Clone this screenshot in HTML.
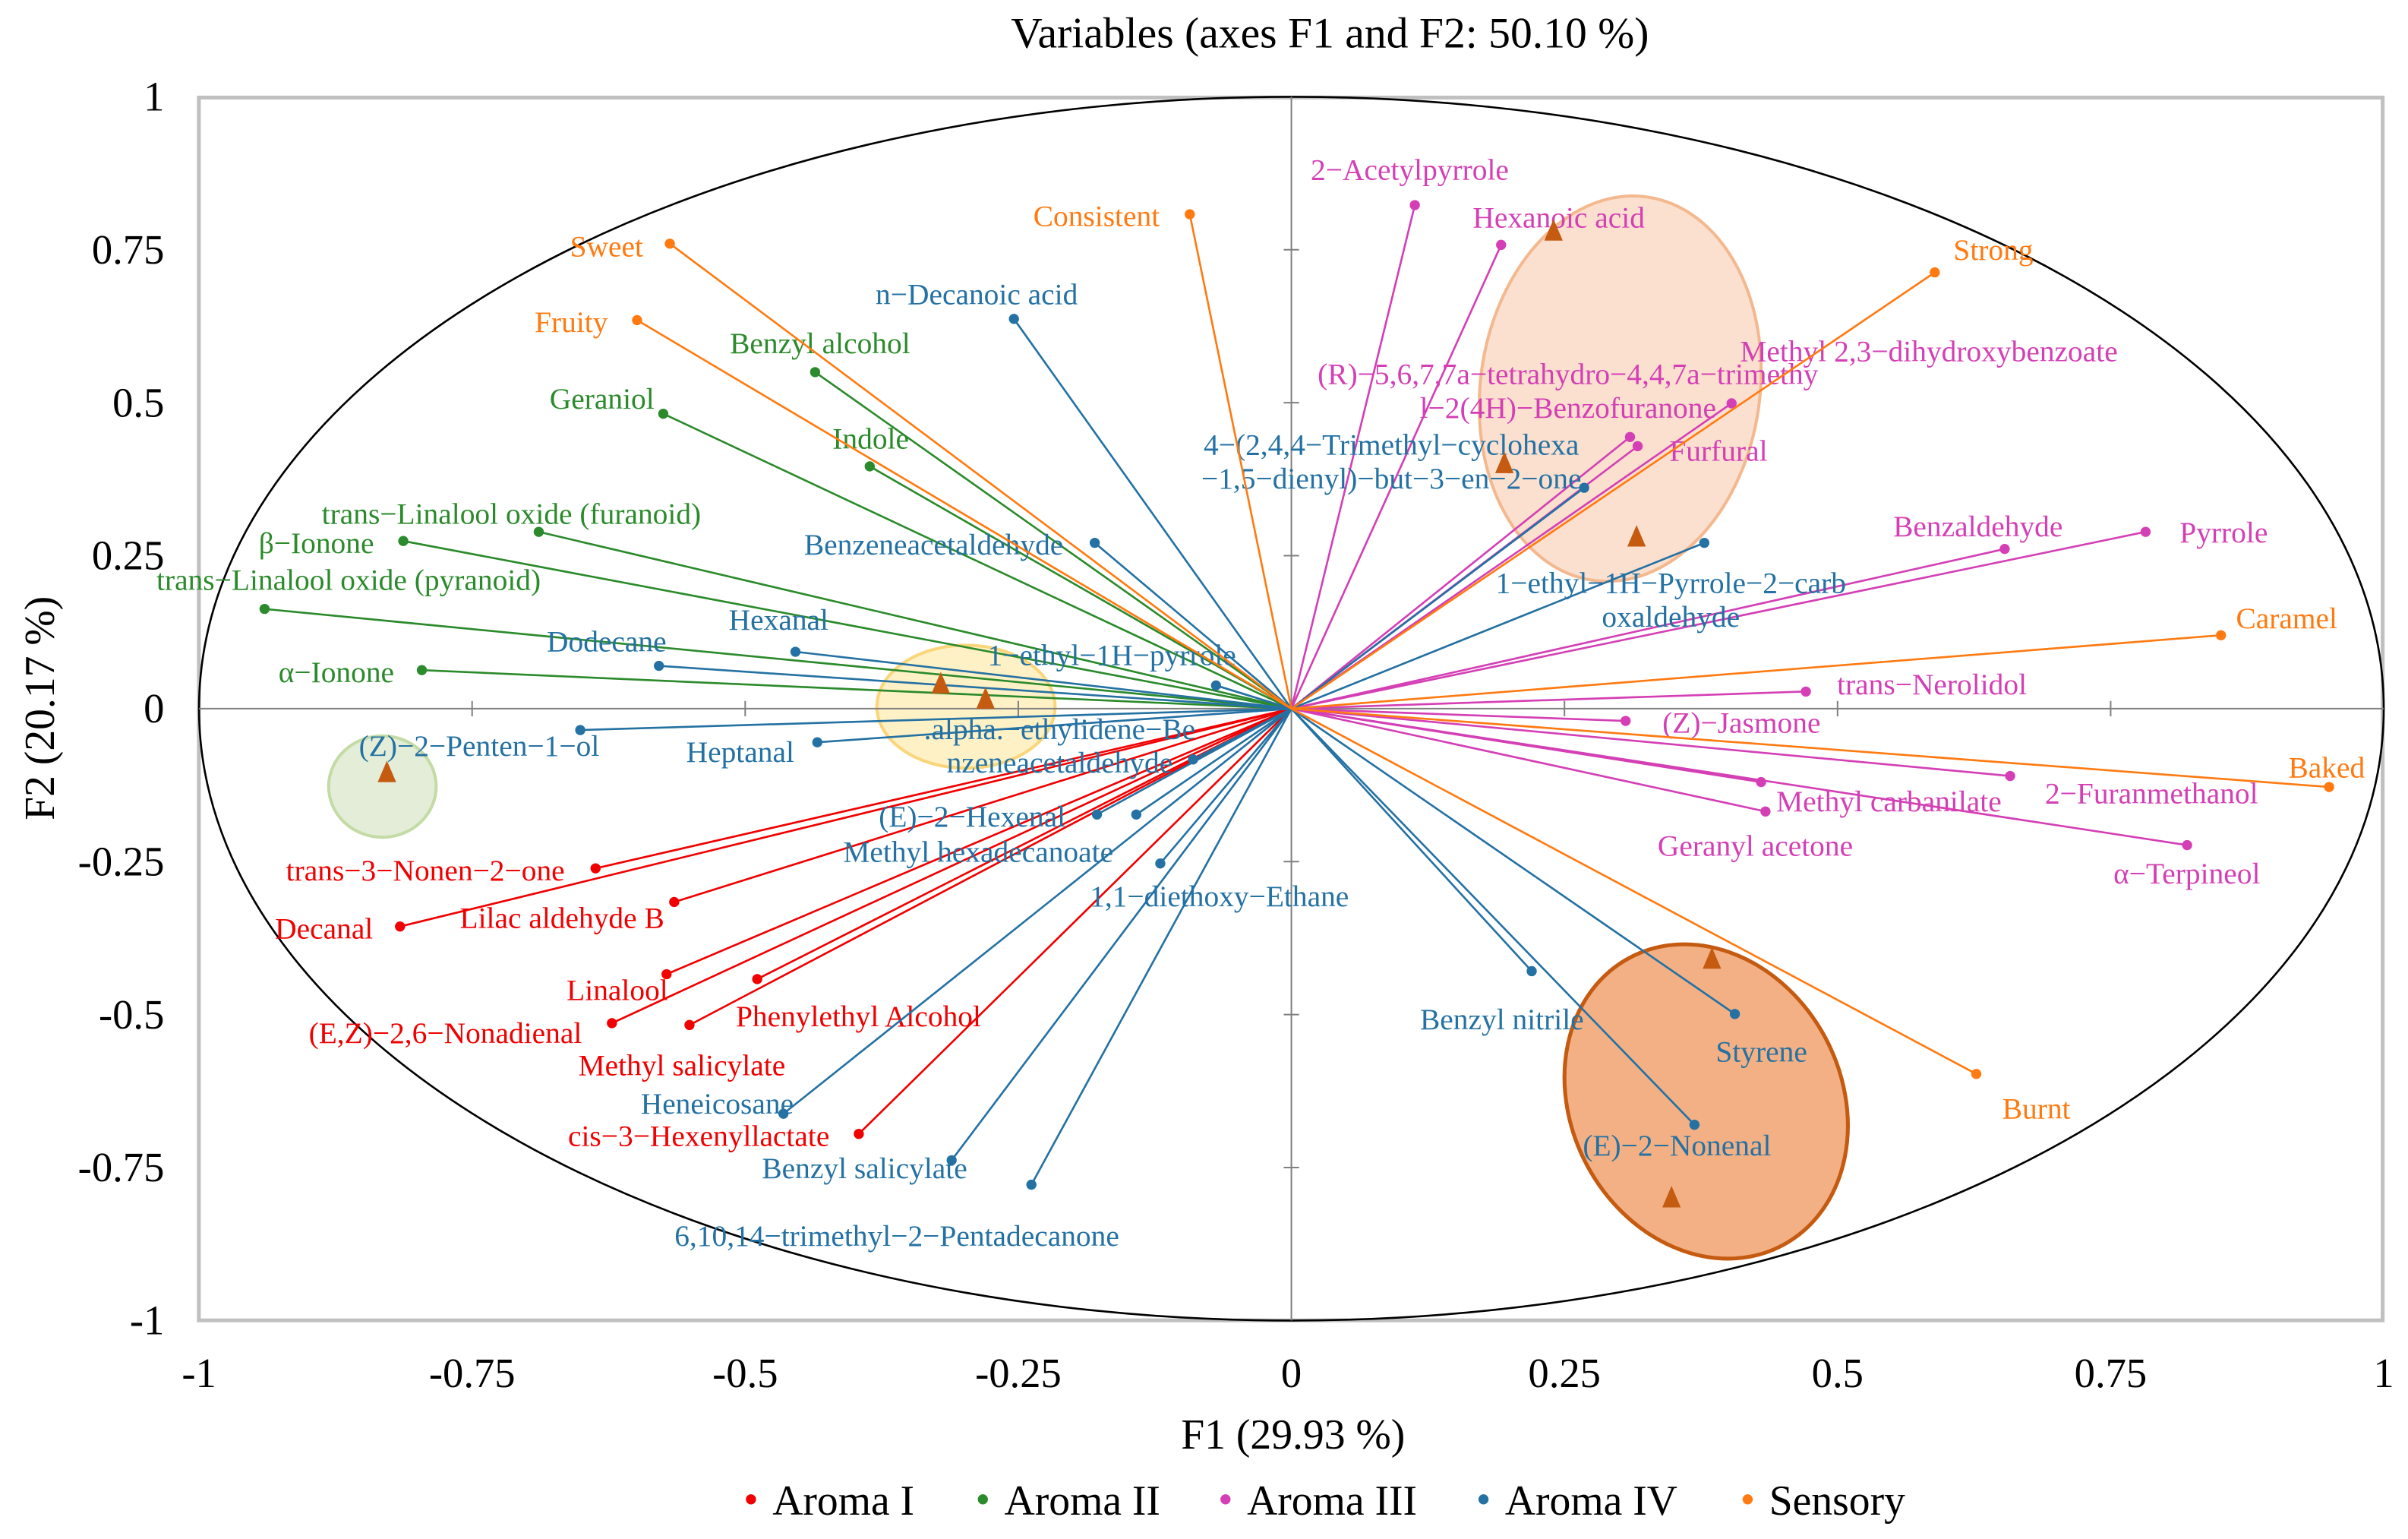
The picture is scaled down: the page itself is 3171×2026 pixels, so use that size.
<!DOCTYPE html>
<html><head><meta charset="utf-8"><style>
html,body{margin:0;padding:0;background:#fff}
svg{display:block;font-family:"Liberation Serif",serif}
</style></head><body>
<svg id="chart" width="3171" height="2026" viewBox="0 0 1568 1001.8" xmlns="http://www.w3.org/2000/svg">
<text x="866" y="31" font-size="28.5" text-anchor="middle">Variables (axes F1 and F2: 50.10 %)</text>
<rect x="129.5" y="63.5" width="1422" height="796" fill="#fff" stroke="#c0c0c0" stroke-width="2.5"/>
<g id="ellipses">
<ellipse cx="1055" cy="253" rx="91" ry="126" transform="rotate(8 1055 253)" fill="#fbe0cf" stroke="#f4b88f" stroke-width="2"/>
<ellipse cx="1111" cy="717" rx="88" ry="106" transform="rotate(-28 1111 717)" fill="#f2b084" stroke="#c55a11" stroke-width="2.5"/>
<ellipse cx="629" cy="460" rx="58" ry="40" fill="#fff1c6" stroke="#fad57a" stroke-width="2"/>
<ellipse cx="249" cy="512" rx="35" ry="33" fill="#e3edd7" stroke="#c4dba6" stroke-width="2"/>
</g>
<g id="axes"></g>
<g id="vectors"></g>
<g id="tri"></g>
<text x="842" y="943" font-size="27.5" text-anchor="middle">F1 (29.93 %)</text>
<text x="0" y="0" font-size="27.5" text-anchor="middle" transform="translate(35 461) rotate(-90)">F2 (20.17 %)</text>
<g id="legend"></g>
</svg>
<script>
var NS="http://www.w3.org/2000/svg";
var ticks=[-1,-0.75,-0.5,-0.25,0,0.25,0.5,0.75,1];
var tickLabels=["-1","-0.75","-0.5","-0.25","0","0.25","0.5","0.75","1"];
var groups=["Aroma I","Aroma II","Aroma III","Aroma IV","Sensory"];
var groupColors=["#f00000","#2b8a2b","#d43fb5","#2471a3","#ff7a10"];
var names=["trans−3−Nonen−2−one","Decanal","Lilac aldehyde B","Linalool","Phenylethyl Alcohol","(E,Z)−2,6−Nonadienal","Methyl salicylate","cis−3−Hexenyllactate",
"Benzyl alcohol","Geraniol","Indole","trans−Linalool oxide (furanoid)","β−Ionone","trans−Linalool oxide (pyranoid)","α−Ionone",
"2−Acetylpyrrole","Hexanoic acid","Methyl 2,3−dihydroxybenzoate","(R)−5,6,7,7a−tetrahydro−4,4,7a−trimethy|l−2(4H)−Benzofuranone","Furfural","Benzaldehyde","Pyrrole","trans−Nerolidol","(Z)−Jasmone","Methyl carbanilate","Geranyl acetone","2−Furanmethanol","α−Terpineol",
"n−Decanoic acid","4−(2,4,4−Trimethyl−cyclohexa|−1,5−dienyl)−but−3−en−2−one","Benzeneacetaldehyde","1−ethyl−1H−Pyrrole−2−carb|oxaldehyde","Hexanal","Dodecane","1−ethyl−1H−pyrrole","(Z)−2−Penten−1−ol","Heptanal",".alpha.−ethylidene−Be|nzeneacetaldehyde","(E)−2−Hexenal","Methyl hexadecanoate","1,1−diethoxy−Ethane","Benzyl nitrile","Styrene","(E)−2−Nonenal","Heneicosane","Benzyl salicylate","6,10,14−trimethyl−2−Pentadecanone",
"Consistent","Sweet","Fruity","Strong","Caramel","Baked","Burnt"];
var group=[0,0,0,0,0,0,0,0, 1,1,1,1,1,1,1, 2,2,2,2,2,2,2,2,2,2,2,2,2, 3,3,3,3,3,3,3,3,3,3,3,3,3,3,3,3,3,3,3, 4,4,4,4,4,4,4];
var f1=[-0.637,-0.816,-0.565,-0.572,-0.489,-0.622,-0.551,-0.396,
-0.436,-0.575,-0.386,-0.689,-0.813,-0.940,-0.796,
0.113,0.192,0.403,0.310,0.317,0.653,0.782,0.471,0.306,0.430,0.434,0.658,0.820,
-0.254,0.268,-0.180,0.378,-0.454,-0.579,-0.069,-0.651,-0.434,-0.090,-0.142,-0.178,-0.120,0.220,0.406,0.369,-0.465,-0.311,-0.238,
-0.093,-0.569,-0.599,0.589,0.851,0.950,0.627];
var f2=[-0.261,-0.356,-0.316,-0.434,-0.442,-0.514,-0.517,-0.695,
0.550,0.482,0.396,0.289,0.274,0.163,0.063,
0.823,0.758,0.499,0.444,0.429,0.261,0.289,0.028,-0.020,-0.120,-0.168,-0.110,-0.223,
0.637,0.361,0.271,0.271,0.093,0.070,0.038,-0.035,-0.055,-0.083,-0.173,-0.173,-0.253,-0.429,-0.499,-0.680,-0.662,-0.738,-0.778,
0.808,0.760,0.635,0.713,0.120,-0.128,-0.597];
var lx=[277,211,366,402,559,290,444,455, 534,392,567,333,206,227,219, 918,1015,1256,1021,1119,1288,1448,1258,1134,1230,1143,1401,1424, 636,906,608,1088,507,395,724,312,482,690,633,637,794,978,1147,1092,467,563,584, 714,395,372,1298,1489,1515,1326];
var ly=[567,605,598,645,662,673,694,740, 224,260,286,335,354,378,438, 111,142,229,244,294,343,347,446,471,522,551,517,569, 192,290,355,380,404,418,427,486,490,475,532,555,584,664,685,746,719,761,805, 141,161,210,163,403,500,722];
var triX=[0.24,0.195,0.316,-0.321,-0.280,-0.828,0.385,0.348];
var triY=[0.78,0.40,0.28,0.04,0.015,-0.105,-0.41,-0.80];
var CX=840.9,CY=461.3,SX=711.3,SY=398.3;
function X(v){return CX+SX*v;}
function Y(v){return CY-SY*v;}
function mk(tag,attrs,parent){var e=document.createElementNS(NS,tag);for(var k in attrs)e.setAttribute(k,attrs[k]);parent.appendChild(e);return e;}
var axes=document.getElementById('axes');
var el=mk('ellipse',{cx:X(0),cy:Y(0),rx:SX,ry:SY,fill:'none',stroke:'#000','stroke-width':1.3},axes);


var a1=mk('line',{x1:X(-1),x2:X(1),y1:Y(0),y2:Y(0),stroke:'#808080','stroke-width':1},axes);


var a2=mk('line',{x1:X(0),x2:X(0),y1:Y(1),y2:Y(-1),stroke:'#808080','stroke-width':1},axes);


ticks.forEach(function(t,i){
  if(t!==0&&Math.abs(t)<1){
    var m1=mk('line',{x1:X(t),x2:X(t),y1:Y(0)-5,y2:Y(0)+5,stroke:'#808080'},axes);
    
    
    var m2=mk('line',{x1:X(0)-5,x2:X(0)+5,y1:Y(t),y2:Y(t),stroke:'#808080'},axes);
    
    
  }
  var tx=mk('text',{x:X(t),y:903,'font-size':27,'text-anchor':'middle'},axes);tx.textContent=tickLabels[i];
  
  
  var ty=mk('text',{x:107,y:Y(t)+9,'font-size':27,'text-anchor':'end'},axes);ty.textContent=tickLabels[i];
  
  
});
var vg=document.getElementById('vectors');
names.forEach(function(n,i){
  var c=groupColors[group[i]];
  var ln=mk('line',{x1:X(0),y1:Y(0),x2:X(f1[i]),y2:Y(f2[i]),stroke:c,'stroke-width':1.3},vg);
  
  
  var pt=mk('circle',{cx:X(f1[i]),cy:Y(f2[i]),r:3.3,fill:c},vg);
  
  
  var parts=n.split('|');
  parts.forEach(function(p,j){
    var t=mk('text',{x:lx[i],y:ly[i]+6+j*22,'font-size':19.5,'text-anchor':'middle',fill:c},vg);
    t.textContent=p;
    
    
  });
});
var tg=document.getElementById('tri');
triX.forEach(function(v,i){
  var x=X(v),y=Y(triY[i]);
  var p=mk('polygon',{points:(x-6)+','+(y+6)+' '+(x+6)+','+(y+6)+' '+x+','+(y-8),fill:'#c55a11'},tg);
  
  
});
var lg=document.getElementById('legend');
var legX=[489,640,798,966,1138];
groups.forEach(function(g,i){
  var d=mk('circle',{cx:legX[i],cy:976,r:3.3,fill:groupColors[i]},lg);
  
  
  var t=mk('text',{x:legX[i]+14,y:986,'font-size':27.5},lg);t.textContent=g;
  
  
});
</script>
</body></html>
